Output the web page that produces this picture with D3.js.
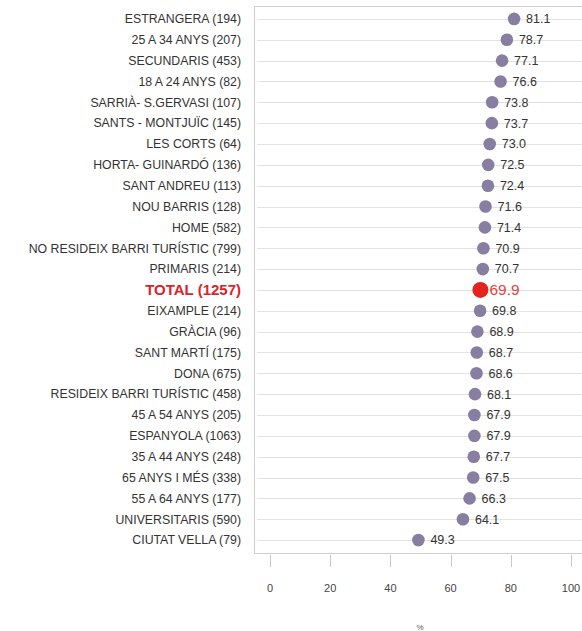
<!DOCTYPE html>
<html>
<head>
<meta charset="utf-8">
<script src="https://cdn.jsdelivr.net/npm/d3@7"></script>
<style>
    body { margin: 0; background: #fff; }
    svg { display: block; font-family: 'Liberation Sans', Arial, sans-serif; }
</style>
</head>
<body>
<svg id="chart"></svg>
<script>
// Categories (with sample size) and values, top to bottom.
const categories = [
    'ESTRANGERA (194)', '25 A 34 ANYS (207)', 'SECUNDARIS (453)', '18 A 24 ANYS (82)',
    'SARRIÀ- S.GERVASI (107)', 'SANTS - MONTJUÏC (145)', 'LES CORTS (64)', 'HORTA- GUINARDÓ (136)',
    'SANT ANDREU (113)', 'NOU BARRIS (128)', 'HOME (582)', 'NO RESIDEIX BARRI TURÍSTIC (799)',
    'PRIMARIS (214)', 'TOTAL (1257)', 'EIXAMPLE (214)', 'GRÀCIA (96)', 'SANT MARTÍ (175)',
    'DONA (675)', 'RESIDEIX BARRI TURÍSTIC (458)', '45 A 54 ANYS (205)', 'ESPANYOLA (1063)',
    '35 A 44 ANYS (248)', '65 ANYS I MÉS (338)', '55 A 64 ANYS (177)', 'UNIVERSITARIS (590)',
    'CIUTAT VELLA (79)',
];
const values = [
    81.1, 78.7, 77.1, 76.6, 73.8, 73.7, 73.0, 72.5, 72.4, 71.6, 71.4, 70.9, 70.7,
    69.9, 69.8, 68.9, 68.7, 68.6, 68.1, 67.9, 67.9, 67.7, 67.5, 66.3, 64.1, 49.3,
];
const xTicks = [0, 20, 40, 60, 80, 100];
const highlight = 'TOTAL (1257)';

const width = 582;
const height = 631;
const plotTop = 6;
const plotBottom = 553;
const plotLeft = 254;

const svg = d3.select('#chart').attr('width', width).attr('height', height);

// X scale.
const x = d3.scaleLinear().domain([0, 100]).range([270, 571]);

// Y scale.
const y = d3.scaleBand().domain(categories).range([8.5, 550.5]).padding(0);
const yc = d => y(d) + y.bandwidth() / 2;

const rows = categories.map((c, i) => ({ name: c, value: values[i], total: c === highlight }));

// Plot frame.
svg.append('rect')
    .attr('x', plotLeft + 0.5)
    .attr('y', plotTop + 0.5)
    .attr('width', 400)
    .attr('height', plotBottom - plotTop)
    .attr('fill', 'none')
    .attr('stroke', '#cfcfcf');

// Gridlines through each row.
svg.append('g')
    .selectAll('line')
    .data(rows)
    .join('line')
    .attr('x1', plotLeft + 3)
    .attr('x2', width)
    .attr('y1', d => Math.round(yc(d.name)) + 0.5)
    .attr('y2', d => Math.round(yc(d.name)) + 0.5)
    .attr('stroke', '#e2e2e2');

// Category labels.
svg.append('g')
    .selectAll('text')
    .data(rows)
    .join('text')
    .attr('x', 241)
    .attr('y', d => yc(d.name))
    .attr('dy', '0.35em')
    .attr('text-anchor', 'end')
    .attr('font-size', d => (d.total ? 15 : 12.3))
    .attr('font-weight', d => (d.total ? 'bold' : 'normal'))
    .attr('fill', d => (d.total ? '#d7262b' : '#333'))
    .text(d => d.name);

// Dots.
svg.append('g')
    .selectAll('circle')
    .data(rows)
    .join('circle')
    .attr('cx', d => x(d.value))
    .attr('cy', d => yc(d.name))
    .attr('r', d => (d.total ? 8 : 6.3))
    .attr('fill', d => (d.total ? '#e3231c' : '#877ea1'));

// Value labels.
svg.append('g')
    .selectAll('text')
    .data(rows)
    .join('text')
    .attr('x', d => x(d.value) + (d.total ? 9 : 12))
    .attr('y', d => yc(d.name))
    .attr('dy', '0.35em')
    .attr('font-size', d => (d.total ? 15.5 : 12.5))
    .attr('fill', d => (d.total ? '#e0433e' : '#333'))
    .text(d => d.value.toFixed(1));

// X axis.
const axis = svg.append('g').attr('transform', `translate(0, ${plotBottom})`);
axis.selectAll('line')
    .data(xTicks)
    .join('line')
    .attr('x1', d => Math.round(x(d)) + 0.5)
    .attr('x2', d => Math.round(x(d)) + 0.5)
    .attr('y1', 2)
    .attr('y2', 14)
    .attr('stroke', '#c8c8c8');
axis.selectAll('text')
    .data(xTicks)
    .join('text')
    .attr('x', d => x(d))
    .attr('y', 39)
    .attr('text-anchor', 'middle')
    .attr('font-size', 11)
    .attr('fill', '#444')
    .text(d => d);

// X axis label.
svg.append('text')
    .attr('x', 420)
    .attr('y', 630)
    .attr('text-anchor', 'middle')
    .attr('font-size', 8)
    .attr('fill', '#555')
    .text('%');
</script>
</body>
</html>
